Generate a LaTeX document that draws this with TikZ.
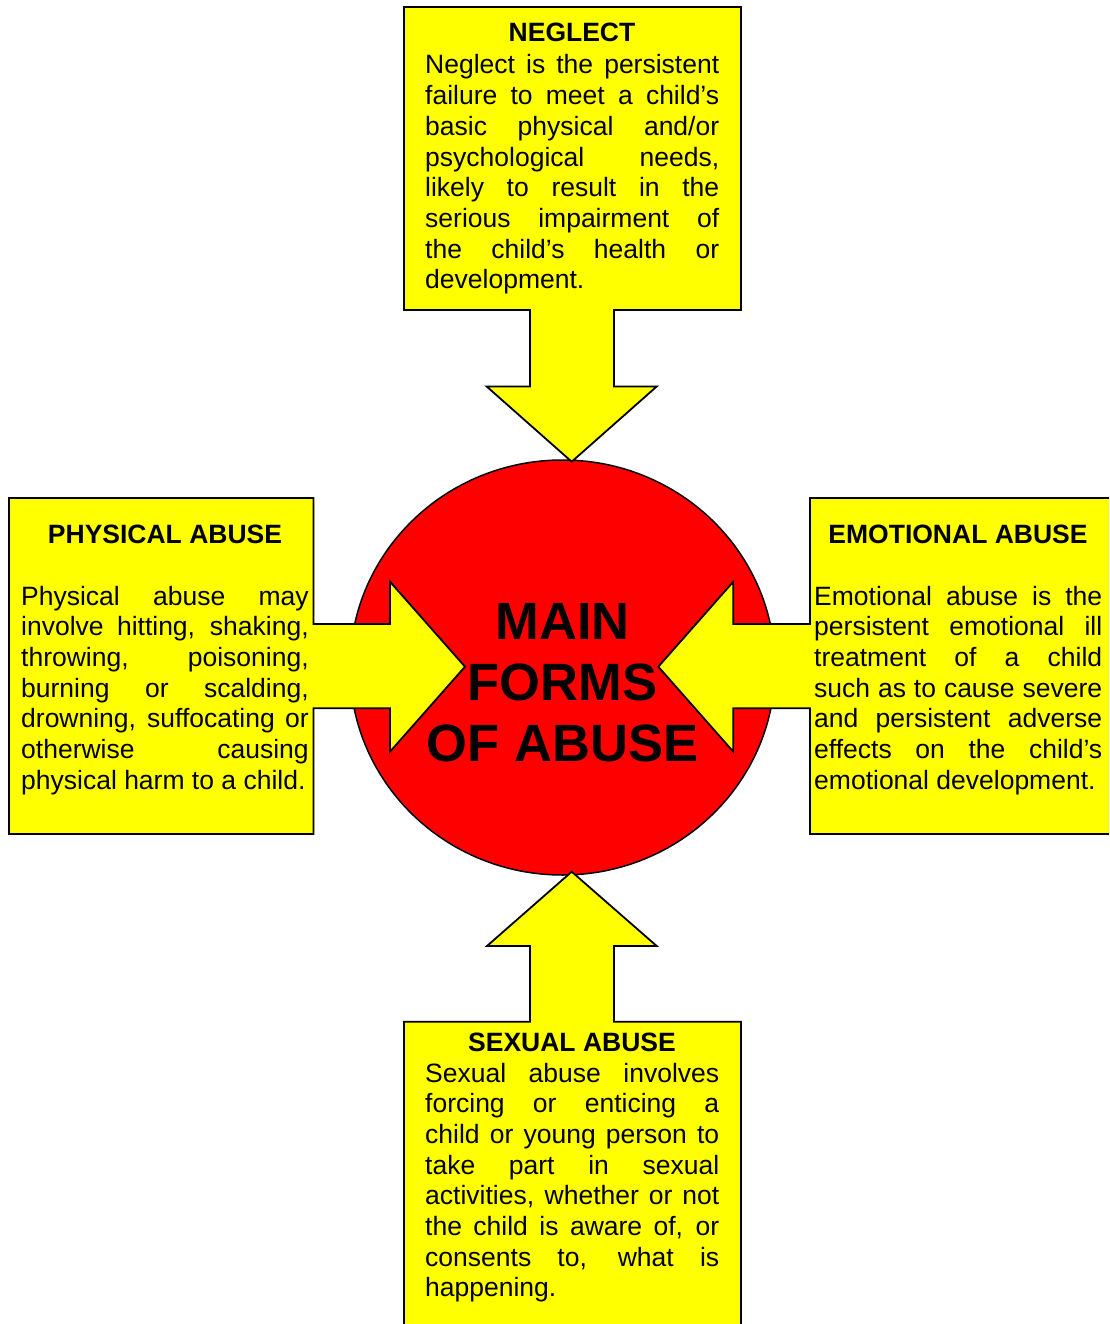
\documentclass[tikz,border=0pt]{standalone}
\usepackage{fontspec}
\setmainfont{Liberation Sans}
\usepackage{tikz}
\usetikzlibrary{shapes.geometric}
\definecolor{yel}{RGB}{255,255,0}
\definecolor{red}{RGB}{255,0,0}
\newcommand{\bodysize}{\fontsize{26.5pt}{30.7pt}\selectfont}
\newcommand{\titlesize}{\fontsize{52.5pt}{61pt}\selectfont}

\begin{document}
\begin{tikzpicture}[x=1pt,y=-1pt,
  panel/.style={draw=black,line width=1.8pt,fill=yel,line join=miter},
  head/.style={anchor=base,inner sep=0pt,font=\bodysize\bfseries},
  body/.style={anchor=base west,inner sep=0pt,align=justify,font=\bodysize}]
    \useasboundingbox (0,0) rectangle (1109,1324);
    \clip (0,0) rectangle (1109,1324);

    % red centre
    \node[draw=black,line width=1.5pt,fill=red,ellipse,inner sep=0pt,
      minimum width=425pt,minimum height=415pt] (core) at (562.5,667.5) {};

    % yellow boxes with their arrows
    \draw[panel] (404,7) -- (741,7) -- (741,310) -- (614,310) -- (614,386.5)
      -- (656.7,386.5) -- (571.7,461.7) -- (486.7,386.5) -- (530,386.5)
      -- (530,310) -- (404,310) -- cycle;
    \draw[panel] (404,1345) -- (404,1021.7) -- (530,1021.7) -- (530,946)
      -- (487,946) -- (571.7,871.7) -- (656.7,946) -- (614,946)
      -- (614,1021.7) -- (741,1021.7) -- (741,1345) -- cycle;
    \draw[panel] (9,498) -- (313.5,498) -- (313.5,624) -- (390,624)
      -- (390,581.7) -- (465,666.7) -- (390,751.7) -- (390,708.3)
      -- (313.5,708.3) -- (313.5,834) -- (9,834) -- cycle;
    \draw[panel] (1125,498) -- (810,498) -- (810,624) -- (733.3,624)
      -- (733.3,581.7) -- (658.3,666.7) -- (733.3,751.7) -- (733.3,708.3)
      -- (810,708.3) -- (810,834) -- (1125,834) -- cycle;

    % title
    \node[font=\titlesize\bfseries,align=center,inner sep=0pt] (title)
      at (562.5,682.5) {MAIN\\FORMS\\OF ABUSE};

    % headings
    \node[head] (h1) at (572,42) {NEGLECT};
    \node[head] (h2) at (165,543) {PHYSICAL ABUSE};
    \node[head] (h3) at (958,543) {EMOTIONAL ABUSE};
    \node[head] (h4) at (572,1051) {SEXUAL ABUSE};

    % texts
    \node[body,text width=294pt] (p1) at (425,74) {Neglect is the persistent\linebreak
      failure to meet a child’s\linebreak basic physical and/or\linebreak
      psychological needs,\linebreak likely to result in the\linebreak
      serious impairment of\linebreak the child’s health or\linebreak development.};
    \node[body,text width=287.5pt] (p2) at (21,605) {Physical abuse may\linebreak
      involve hitting, shaking,\linebreak throwing, poisoning,\linebreak
      burning or scalding,\linebreak drowning, suffocating or\linebreak
      otherwise causing\linebreak physical harm to a child.};
    \node[body,text width=288pt] (p3) at (814,605) {Emotional abuse is the\linebreak
      persistent emotional ill\linebreak treatment of a child\linebreak
      such as to cause severe\linebreak and persistent adverse\linebreak
      effects on the child’s\linebreak emotional development.};
    \node[body,text width=294pt] (p4) at (425,1082) {Sexual abuse involves\linebreak
      forcing or enticing a\linebreak child or young person to\linebreak
      take part in sexual\linebreak activities, whether or not\linebreak
      the child is aware of, or\linebreak consents to, what is\linebreak happening.};
\end{tikzpicture}
\end{document}
